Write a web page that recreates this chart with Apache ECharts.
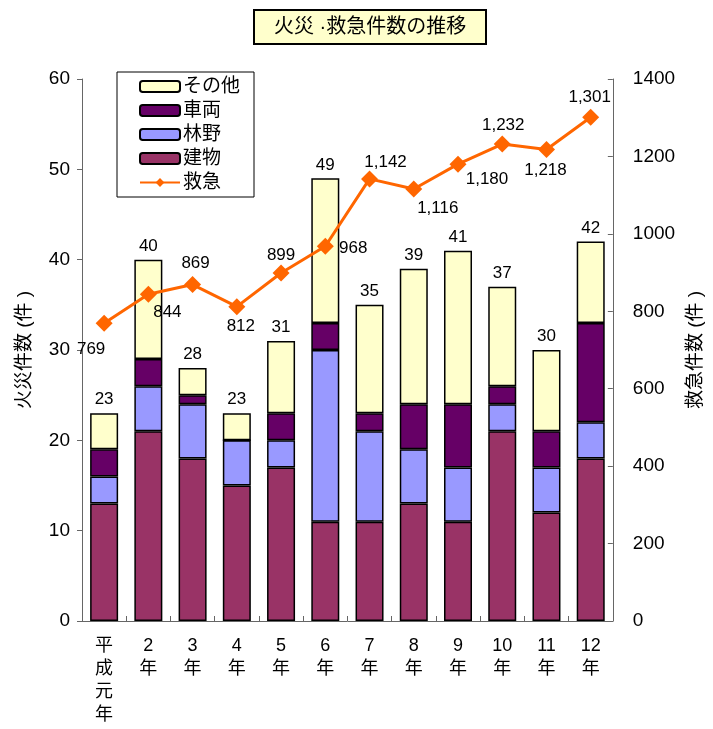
<!DOCTYPE html>
<html><head><meta charset="utf-8">
<script src="https://cdn.jsdelivr.net/npm/echarts@6/dist/echarts.min.js"></script>
<style>html,body{margin:0;padding:0;background:#fff}#c{width:713px;height:729px}</style>
</head><body><div id="c"></div>
<script>
const categories = ['平\n成\n元\n年','2\n年','3\n年','4\n年','5\n年','6\n年','7\n年','8\n年','9\n年','10\n年','11\n年','12\n年'];
const building = [13, 21, 18, 15, 17, 11, 11, 13, 11, 21, 12, 18];
const forest   = [3, 5, 6, 5, 3, 19, 10, 6, 6, 3, 5, 4];
const vehicle  = [3, 3, 1, 0, 3, 3, 2, 5, 7, 2, 4, 11];
const other    = [4, 11, 3, 3, 8, 16, 12, 15, 17, 11, 9, 9];
const fireTotal = [23, 40, 28, 23, 31, 49, 35, 39, 41, 37, 30, 42];
const ambulance = [769, 844, 869, 812, 899, 968, 1142, 1116, 1180, 1232, 1218, 1301];
const leftTicks = {min: 0, max: 60, interval: 10};
const rightTicks = {min: 0, max: 1400, interval: 200};

const labelOffsets = [[-13,26],[19,18],[3,-21],[4,20],[0,-18],[28,2],[16,-17],[24,19],[29,15],[1,-19],[-1,21],[-1,-20]];

const FONT = '"Liberation Sans", Arial, "Noto Sans CJK JP", sans-serif';
const chart = echarts.init(document.getElementById('c'), null, {renderer:'canvas'});
const barBase = {type:'bar', stack:'fire', yAxisIndex:0, barWidth: 28};
chart.setOption({
  animation:false,
  textStyle:{fontFamily:FONT},
  title:{text:'火災 ·救急件数の推移', left:254, top:10,
    backgroundColor:'#FFFFCC', borderColor:'#000', borderWidth:2, padding:[7,20],
    textStyle:{fontFamily:FONT, fontSize:20, fontWeight:'normal', color:'#000'}},
  legend:{orient:'vertical', left:117, top:72, backgroundColor:'#fff', borderColor:'#000', borderWidth:1,
    padding:[5,14,5,22], itemWidth:40, itemHeight:11, itemGap:5,
    textStyle:{fontFamily:FONT, fontSize:19, color:'#000', padding:[0,0,0,-2]},
    data:['その他','車両','林野','建物','救急']},
  grid:{left:82, right:92, top:79, bottom:108},
  xAxis:{type:'category', data:categories,
    axisLine:{lineStyle:{color:'#666', width:1}},
    axisTick:{show:true, inside:true, length:5, lineStyle:{color:'#666'}},
    axisLabel:{color:'#000', fontSize:18, lineHeight:23, margin:14, fontFamily:FONT}},
  yAxis:[
    {type:'value', min:leftTicks.min, max:leftTicks.max, interval:leftTicks.interval,
      name:'火災件数 (件 )', nameLocation:'middle', nameRotate:90, nameGap:48,
      nameTextStyle:{fontSize:19, color:'#000', fontFamily:FONT},
      axisLine:{show:true, lineStyle:{color:'#666'}},
      axisTick:{show:true, length:5, lineStyle:{color:'#666'}},
      splitLine:{show:false},
      axisLabel:{color:'#000', fontSize:19, margin:12, fontFamily:FONT}},
    {type:'value', min:rightTicks.min, max:rightTicks.max, interval:rightTicks.interval,
      name:'救急件数 (件 )', nameLocation:'middle', nameRotate:90, nameGap:72,
      nameTextStyle:{fontSize:19, color:'#000', fontFamily:FONT},
      position:'right',
      axisLine:{show:true, lineStyle:{color:'#666'}},
      axisTick:{show:true, inside:true, length:5, lineStyle:{color:'#666'}},
      splitLine:{show:false},
      axisLabel:{color:'#000', fontSize:19, margin:20, fontFamily:FONT, formatter:v => String(v)}}
  ],
  series:[
    Object.assign({}, barBase, {name:'建物', data:building, itemStyle:{color:'#993366', borderColor:'#000', borderWidth:1.5}}),
    Object.assign({}, barBase, {name:'林野', data:forest, itemStyle:{color:'#9999FF', borderColor:'#000', borderWidth:1.5}}),
    Object.assign({}, barBase, {name:'車両', data:vehicle, itemStyle:{color:'#660066', borderColor:'#000', borderWidth:1.5}}),
    Object.assign({}, barBase, {name:'その他', data:other, itemStyle:{color:'#FFFFCC', borderColor:'#000', borderWidth:1.5},
      label:{show:true, position:'top', distance:5, color:'#000', fontSize:17, fontFamily:FONT,
        formatter:p => String(fireTotal[p.dataIndex])}}),
    {name:'救急', type:'line', yAxisIndex:1, z:5,
      data: ambulance.map((v,i)=>({value:v, label:{offset:labelOffsets[i]}})),
      symbol:'diamond', symbolSize:17,
      lineStyle:{color:'#FF6600', width:3}, itemStyle:{color:'#FF6600'},
      label:{show:true, position:'inside', color:'#000', fontSize:17, fontFamily:FONT,
        formatter:p => p.value.toLocaleString('en-US')}}
  ]
});
</script></body></html>
